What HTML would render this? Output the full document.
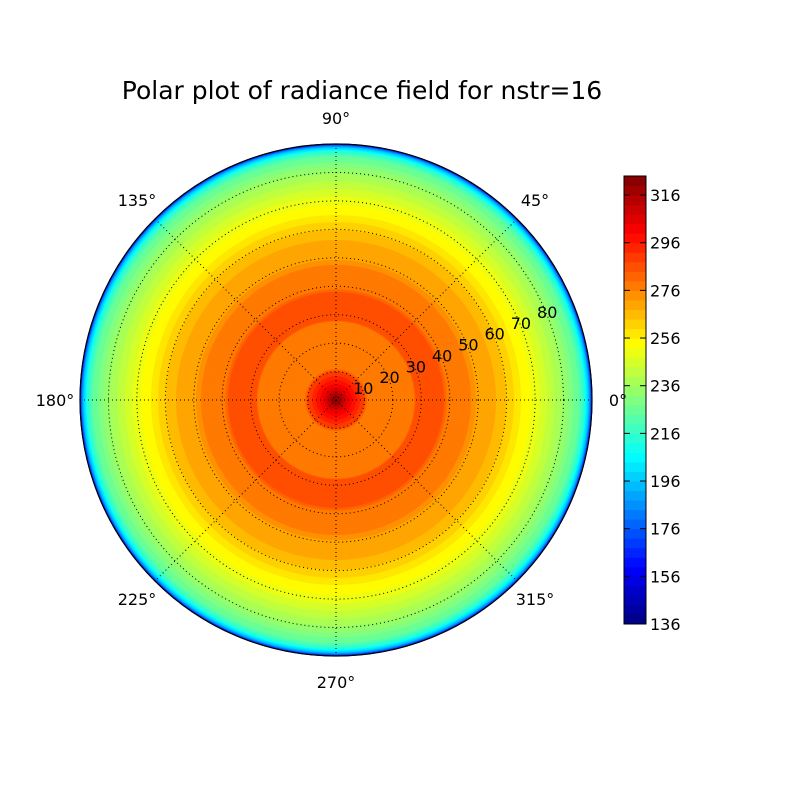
<!DOCTYPE html>
<html><head><meta charset="utf-8"><style>
body{margin:0;background:#fff;width:800px;height:800px;overflow:hidden}
svg text{font-family:"DejaVu Sans","Liberation Sans",sans-serif;font-size:16px;fill:#000}
</style></head><body>
<svg id="s" width="800" height="800" xmlns="http://www.w3.org/2000/svg">
<text x="362" y="99" text-anchor="middle" style="font-size:25px">Polar plot of radiance field for nstr=16</text>
<g id="rings"></g>
<g id="grid" fill="none" stroke="#000" stroke-width="1" stroke-dasharray="1,3"></g>
<circle cx="336" cy="400" r="256" fill="none" stroke="#000" stroke-width="1.2"/>
<g id="cb"></g>
<rect x="624" y="176" width="22" height="448" fill="none" stroke="#000"/>
<g id="lbl"></g>
</svg>
<script>
function jet(v){function c(x){return Math.max(0,Math.min(1,x));}
var r=c(1.5-Math.abs(4*v-3)),g=c(1.5-Math.abs(4*v-2)),b=c(1.5-Math.abs(4*v-1));
return "rgb("+Math.round(r*255)+","+Math.round(g*255)+","+Math.round(b*255)+")";}
var vmin=136,vmax=324;
function col(val){var q=Math.floor((val-vmin)/4)*4+vmin+2;return jet((q-vmin)/(vmax-vmin));}
var prof=[[0,324],[5,316],[12,304],[20,296],[28,288],[32,278],[78,278],[80,284],[108,284],[112,278],[135,276],[140,272],[160,268],[175,262],[185,256],[200,250],[215,242],[230,234],[243,224],[249,212],[253,195],[255.5,170],[256.5,140]];
function val(r){for(var i=1;i<prof.length;i++){if(r<=prof[i][0]){var a=prof[i-1],b=prof[i];return a[1]+(b[1]-a[1])*(r-a[0])/(b[0]-a[0]);}}return 136;}
var h="";
for(var r=256.5;r>0;r-=0.5){h+='<circle cx="336" cy="400" r="'+r+'" fill="'+col(val(r))+'"/>';}
document.getElementById("rings").innerHTML=h;
var g="";
for(var k=1;k<=8;k++)g+='<circle cx="336" cy="400" r="'+(k*28.44).toFixed(1)+'"/>';
for(var a=0;a<4;a++){var t=a*Math.PI/4;g+='<line x1="'+(336-256*Math.cos(t))+'" y1="'+(400-256*Math.sin(t))+'" x2="'+(336+256*Math.cos(t))+'" y2="'+(400+256*Math.sin(t))+'"/>';}
document.getElementById("grid").innerHTML=g;
var c="",n=47,hgt=448/n;
for(var i=0;i<n;i++){var v=vmin+i*4+2;c+='<rect x="624" y="'+(624-(i+1)*hgt)+'" width="22" height="'+(hgt+0.5)+'" fill="'+jet((v-vmin)/(vmax-vmin))+'"/>';}
for(var tv=136;tv<=316;tv+=20){var y=624-(tv-vmin)*448/(vmax-vmin);c+='<line x1="624" x2="630" y1="'+y+'" y2="'+y+'" stroke="#000"/><line x1="640" x2="646" y1="'+y+'" y2="'+y+'" stroke="#000"/><text x="650" y="'+(y+6)+'">'+tv+'</text>';}
document.getElementById("cb").innerHTML=c;
var l="";
var ang=[[0,"0°",618,406],[45,"45°",535,206],[90,"90°",336,124],[135,"135°",137,206],[180,"180°",55,406],[225,"225°",137,605],[270,"270°",336,688],[315,"315°",535,605]];
ang.forEach(function(p){l+='<text x="'+p[2]+'" y="'+p[3]+'" text-anchor="middle">'+p[1]+'</text>';});
for(var k=1;k<=8;k++){var rr=k*28.44,t=22.5*Math.PI/180;l+='<text x="'+(336+rr*Math.cos(t)+1)+'" y="'+(400-rr*Math.sin(t)+5)+'" text-anchor="middle">'+(k*10)+'</text>';}
document.getElementById("lbl").innerHTML=l;
</script>
</body></html>
